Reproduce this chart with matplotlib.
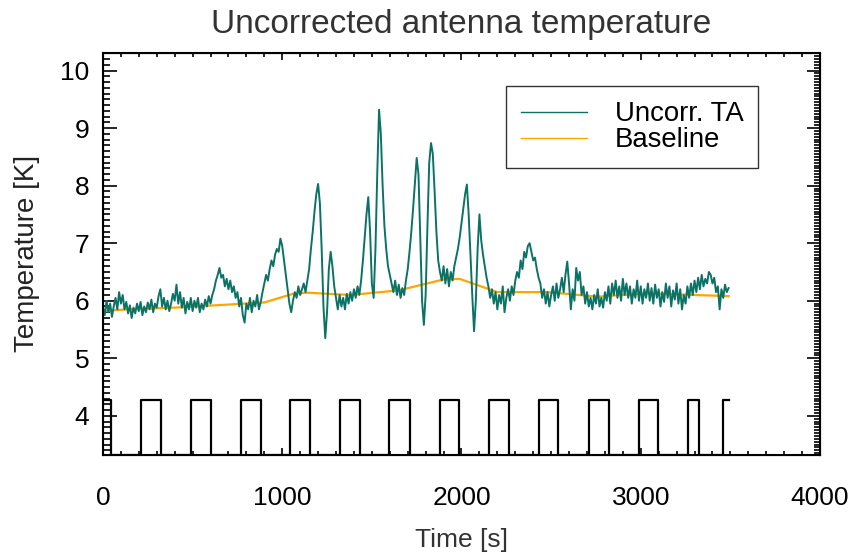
import matplotlib
matplotlib.use("Agg")
import matplotlib.pyplot as plt
import numpy as np
from matplotlib.ticker import MultipleLocator

plt.rcParams['font.family'] = ['Liberation Sans', 'DejaVu Sans']

# Uncorrected antenna temperature, one reading every 10 s starting at t = 0
ta_values = [
    5.88, 5.75, 6.00, 5.80, 5.95, 5.72, 5.90, 6.05, 5.85, 6.15,
    5.95, 6.10, 5.85, 5.98, 5.78, 5.92, 5.70, 5.88, 5.78, 5.95,
    5.82, 5.98, 5.75, 5.90, 5.80, 5.97, 5.85, 6.02, 5.80, 5.95,
    5.88, 6.08, 6.20, 5.90, 6.05, 5.85, 6.00, 5.82, 5.95, 6.12,
    6.00, 6.28, 5.95, 6.15, 5.88, 6.05, 5.78, 5.98, 5.85, 6.05,
    5.82, 6.00, 5.88, 6.05, 5.80, 5.95, 5.85, 6.02, 5.90, 6.08,
    5.95, 6.10, 6.20, 6.35, 6.45, 6.57, 6.40, 6.45, 6.25, 6.38,
    6.20, 6.35, 6.15, 6.25, 6.05, 6.15, 5.90, 6.05, 5.75, 5.62,
    5.95, 5.85, 6.05, 5.80, 6.00, 5.90, 6.10, 5.85, 5.98, 6.15,
    6.30, 6.45, 6.35, 6.55, 6.70, 6.60, 6.80, 6.90, 6.85, 7.08,
    6.95, 6.70, 6.45, 6.20, 5.95, 5.80, 6.00, 6.15, 6.05, 6.25,
    6.10, 6.20, 6.30, 6.15, 6.35, 6.55, 6.90, 7.20, 7.55, 7.85,
    8.03, 7.70, 6.90, 5.90, 5.35, 5.80, 6.55, 6.85, 6.60, 6.25,
    6.05, 5.85, 6.10, 5.90, 6.05, 5.85, 6.12, 5.95, 6.15, 6.00,
    6.20, 6.05, 6.25, 6.10, 6.35, 6.70, 7.10, 7.50, 7.80, 7.20,
    6.30, 6.05, 6.90, 8.20, 9.32, 8.90, 8.00, 7.30, 6.90, 6.60,
    6.45, 6.30, 6.15, 6.35, 6.10, 6.28, 6.05, 6.22, 6.10, 6.35,
    6.55, 6.85, 7.20, 7.60, 8.05, 8.48, 8.20, 7.10, 6.00, 5.58,
    6.10, 7.30, 8.40, 8.74, 8.55, 7.90, 7.20, 6.70, 6.50, 6.35,
    6.60, 6.30, 6.55, 6.25, 6.50, 6.35, 6.60, 6.75, 6.90, 7.10,
    7.35, 7.60, 7.85, 8.02, 7.50, 6.80, 6.10, 5.47, 6.00, 6.90,
    7.50, 7.05, 6.80, 6.60, 6.40, 6.25, 6.05, 6.20, 5.95, 6.15,
    5.85, 6.10, 5.95, 6.25, 5.80, 6.05, 6.20, 6.00, 6.25, 6.10,
    6.35, 6.50, 6.40, 6.70, 6.55, 6.85, 6.75, 6.95, 7.00, 6.85,
    6.70, 6.75, 6.55, 6.40, 6.30, 6.05, 6.20, 5.95, 6.15, 5.90,
    6.10, 6.25, 6.00, 6.30, 6.05, 6.20, 6.40, 6.15, 6.45, 6.68,
    6.30, 5.85, 6.20, 6.00, 6.57, 6.35, 6.50, 6.10, 6.25, 5.95,
    6.15, 5.90, 6.05, 5.85, 6.10, 5.95, 6.20, 5.90, 6.05, 5.88,
    6.15, 6.00, 6.25, 5.95, 6.30, 6.10, 6.35, 6.05, 6.25, 6.00,
    6.38, 6.10, 6.30, 6.05, 6.25, 5.95, 6.20, 6.05, 6.35, 6.00,
    6.25, 5.95, 6.20, 6.05, 6.30, 6.00, 6.22, 5.95, 6.28, 6.05,
    6.20, 5.90, 6.15, 5.98, 6.30, 6.05, 6.25, 5.90, 6.18, 6.02,
    6.30, 5.95, 6.20, 5.85, 6.10, 5.95, 6.25, 6.05, 6.30, 6.10,
    6.35, 6.15, 6.40, 6.20, 6.45, 6.25, 6.38, 6.30, 6.50, 6.45,
    6.30, 6.40, 6.15, 6.25, 5.85, 6.20, 6.05, 6.28, 6.15, 6.22,
]
ta_time = np.arange(len(ta_values)) * 10

# Baseline knots
base_time = [0, 130, 400, 680, 900, 1060, 1140, 1380, 1650, 1900, 1990, 2200, 2480, 2760, 3040, 3300, 3490]
base_values = [5.82, 5.85, 5.88, 5.93, 5.97, 6.12, 6.14, 6.10, 6.18, 6.37, 6.38, 6.15, 6.15, 6.07, 6.13, 6.10, 6.08]

# On/off switching signal: times where the state changes
switch_time = [0, 47, 214, 322, 489, 602, 768, 880, 1043, 1155, 1322, 1433, 1597, 1712,
               1880, 1987, 2151, 2266, 2433, 2541, 2709, 2824, 2988, 3095, 3263, 3326, 3460, 3490]
switch_state = [1, 0, 1, 0, 1, 0, 1, 0, 1, 0, 1, 0, 1, 0,
                1, 0, 1, 0, 1, 0, 1, 0, 1, 0, 1, 0, 1, 1]
high_level = 4.27
low_level = 3.32

fig = plt.figure(figsize=(8.51, 5.56), dpi=100)
ax = fig.add_axes([0.121, 0.1817, 0.8426, 0.7235])

ax.plot(ta_time, ta_values, color="#0b7366", lw=1.4, label="Uncorr. TA", zorder=3)
ax.plot(base_time, base_values, color="#ffa500", lw=1.6, label="Baseline", zorder=2)
sw = np.array(switch_state)
ax.step(switch_time, low_level + sw * (high_level - low_level), where="post", color="black", lw=1.6)

ax.set_xlim(0, 4000)
ax.set_ylim(3.32, 10.31)
ax.xaxis.set_major_locator(MultipleLocator(1000))
ax.xaxis.set_minor_locator(MultipleLocator(100))
ax.yaxis.set_major_locator(MultipleLocator(1))
ax.yaxis.set_minor_locator(MultipleLocator(0.1))
ax.tick_params(which="both", direction="in", top=True, right=False, width=1.2, labelsize=19)
ax.tick_params(axis="x", which="major", length=5, pad=22)
ax.tick_params(axis="x", which="minor", length=3)
ax.tick_params(axis="y", which="major", length=10, pad=10)
ax.tick_params(axis="y", which="minor", length=5)
for s in ax.spines.values():
    s.set_linewidth(1.5)

# right axis has finer minor ticks
ax2 = ax.twinx()
ax2.set_ylim(ax.get_ylim())
ax2.yaxis.set_major_locator(MultipleLocator(1))
ax2.yaxis.set_minor_locator(MultipleLocator(0.05))
ax2.tick_params(which="both", direction="in", width=1.2, labelright=False)
ax2.tick_params(which="major", length=9.5)
ax2.tick_params(which="minor", length=4.5)

ax.set_title("Uncorrected antenna temperature", fontsize=24, color="#333333", pad=14)
ax.set_xlabel("Time [s]", fontsize=19, color="#333333", labelpad=13)
ax.set_ylabel("Temperature [K]", fontsize=20, color="#222222", labelpad=14)

leg = ax.legend(loc="upper left", bbox_to_anchor=(0.562, 0.917), fontsize=19.8, frameon=True,
                fancybox=False, edgecolor="black", handlelength=2.4, handletextpad=1.0,
                labelspacing=0.0, borderpad=0.55, borderaxespad=0.0)
leg.get_frame().set_linewidth(1.0)
for line in leg.get_lines():
    line.set_linewidth(1.0)

fig.savefig("out.png", dpi=100)
